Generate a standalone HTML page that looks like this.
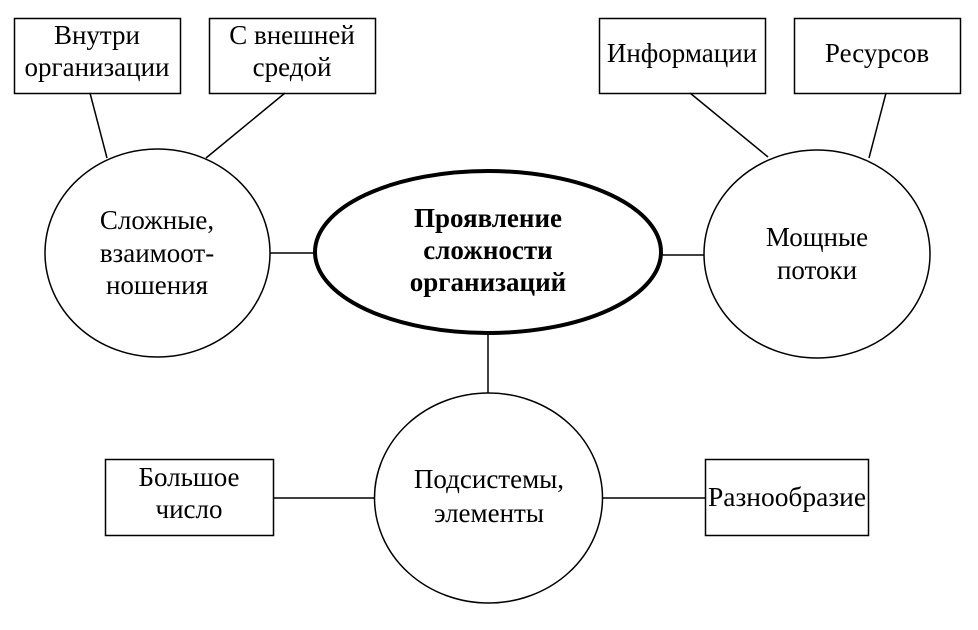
<!DOCTYPE html>
<html><head><meta charset="utf-8"><style>
html,body{margin:0;padding:0;background:#fff;}
svg text{font-family:"Liberation Serif",serif;font-size:27px;fill:#000;}
</style></head><body>
<svg width="978" height="625" viewBox="0 0 978 625" xmlns="http://www.w3.org/2000/svg">
<g fill="none" stroke="#000" stroke-width="1.5">
<rect x="14.5" y="18.5" width="166" height="75"/>
<rect x="209.5" y="18.5" width="166" height="75"/>
<rect x="599.5" y="18.5" width="166" height="75"/>
<rect x="794.5" y="18.5" width="166" height="75"/>
<rect x="105.5" y="459.5" width="168" height="76"/>
<rect x="705.5" y="459.5" width="163" height="76"/>
<line x1="90" y1="93" x2="107" y2="158"/>
<line x1="285" y1="93" x2="206" y2="158"/>
<line x1="690" y1="93" x2="768" y2="157"/>
<line x1="886" y1="93" x2="869" y2="158"/>
<line x1="270" y1="253" x2="314" y2="253"/>
<line x1="661" y1="255" x2="704" y2="255"/>
<line x1="488" y1="334" x2="488" y2="393"/>
<line x1="273" y1="498" x2="375" y2="498"/>
<line x1="602" y1="498" x2="705" y2="498"/>
<ellipse cx="157.5" cy="253" rx="112.5" ry="104"/>
<ellipse cx="817" cy="254" rx="113" ry="104"/>
<ellipse cx="488.5" cy="498" rx="114" ry="105"/>
<ellipse cx="488" cy="252" rx="173" ry="81" stroke-width="4"/>
</g>
<g text-anchor="middle">
<text x="97" y="44">Внутри</text><text x="97" y="76">организации</text>
<text x="292" y="44">С внешней</text><text x="292" y="76">средой</text>
<text x="682" y="62">Информации</text>
<text x="877" y="62">Ресурсов</text>
<text x="157" y="229">Сложные,</text><text x="157" y="262">взаимоот-</text><text x="157" y="294">ношения</text>
<text x="817" y="246">Мощные</text><text x="817" y="279">потоки</text>
<text x="488" y="227" font-weight="bold">Проявление</text>
<text x="488" y="259" font-weight="bold">сложности</text>
<text x="488" y="291" font-weight="bold">организаций</text>
<text x="489" y="488">Подсистемы,</text><text x="489" y="522">элементы</text>
<text x="189" y="486">Большое</text><text x="189" y="518">число</text>
<text x="787" y="506" textLength="158" lengthAdjust="spacingAndGlyphs">Разнообразие</text>
</g>
</svg>
</body></html>
